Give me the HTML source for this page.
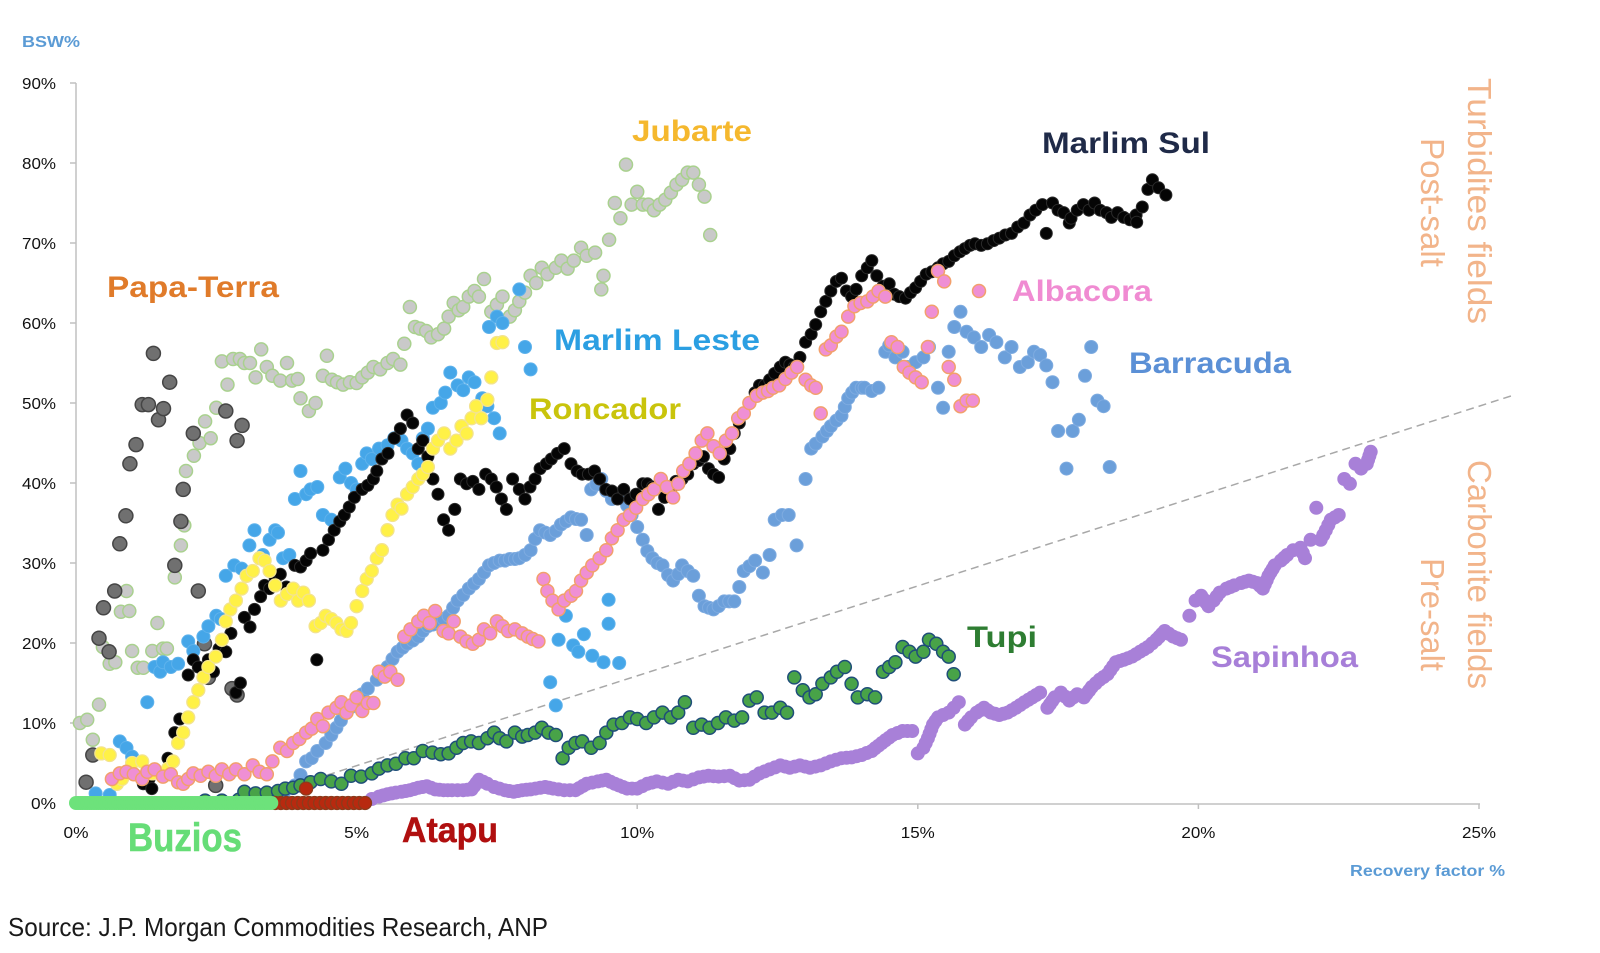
<!DOCTYPE html>
<html><head><meta charset="utf-8"><style>
html,body{margin:0;padding:0;background:#fff;}
svg{display:block;}
text{font-family:"Liberation Sans",Arial,sans-serif;}
</style></head><body>
<svg id="s" width="1600" height="953" viewBox="0 0 1600 953" xmlns="http://www.w3.org/2000/svg">
<rect width="1600" height="953" fill="#fff"/>
<g stroke="#c0c0c0" stroke-width="1.5" fill="none">
<line x1="76" y1="83" x2="76" y2="804"/>
<line x1="75" y1="804" x2="1480" y2="804"/>
<line x1="70" y1="83" x2="76" y2="83"/><line x1="70" y1="163" x2="76" y2="163"/><line x1="70" y1="243" x2="76" y2="243"/>
<line x1="70" y1="323" x2="76" y2="323"/><line x1="70" y1="403" x2="76" y2="403"/><line x1="70" y1="483" x2="76" y2="483"/>
<line x1="70" y1="563" x2="76" y2="563"/><line x1="70" y1="643" x2="76" y2="643"/><line x1="70" y1="723" x2="76" y2="723"/>
<line x1="70" y1="803" x2="76" y2="803"/>
<line x1="356.6" y1="804" x2="356.6" y2="809"/><line x1="637.2" y1="804" x2="637.2" y2="809"/>
<line x1="917.8" y1="804" x2="917.8" y2="809"/><line x1="1198.4" y1="804" x2="1198.4" y2="809"/><line x1="1479" y1="804" x2="1479" y2="809"/>
</g>
<g font-size="16" fill="#111" text-anchor="end">
<text x="56" y="89" textLength="34" lengthAdjust="spacingAndGlyphs">90%</text>
<text x="56" y="169" textLength="34" lengthAdjust="spacingAndGlyphs">80%</text>
<text x="56" y="249" textLength="34" lengthAdjust="spacingAndGlyphs">70%</text>
<text x="56" y="329" textLength="34" lengthAdjust="spacingAndGlyphs">60%</text>
<text x="56" y="409" textLength="34" lengthAdjust="spacingAndGlyphs">50%</text>
<text x="56" y="489" textLength="34" lengthAdjust="spacingAndGlyphs">40%</text>
<text x="56" y="569" textLength="34" lengthAdjust="spacingAndGlyphs">30%</text>
<text x="56" y="649" textLength="34" lengthAdjust="spacingAndGlyphs">20%</text>
<text x="56" y="729" textLength="34" lengthAdjust="spacingAndGlyphs">10%</text>
<text x="56" y="809" textLength="25" lengthAdjust="spacingAndGlyphs">0%</text>
</g>
<g font-size="16" fill="#111" text-anchor="middle">
<text x="76" y="838" textLength="25" lengthAdjust="spacingAndGlyphs">0%</text>
<text x="356.6" y="838" textLength="25" lengthAdjust="spacingAndGlyphs">5%</text>
<text x="637.2" y="838" textLength="34" lengthAdjust="spacingAndGlyphs">10%</text>
<text x="917.8" y="838" textLength="34" lengthAdjust="spacingAndGlyphs">15%</text>
<text x="1198.4" y="838" textLength="34" lengthAdjust="spacingAndGlyphs">20%</text>
<text x="1479" y="838" textLength="34" lengthAdjust="spacingAndGlyphs">25%</text>
</g>
<text x="22" y="47" font-size="16" font-weight="bold" fill="#5b9bd5" textLength="58" lengthAdjust="spacingAndGlyphs">BSW%</text>
<text x="1350" y="876" font-size="16" font-weight="bold" fill="#5b9bd5" textLength="155" lengthAdjust="spacingAndGlyphs">Recovery factor %</text>
<text x="8" y="936" font-size="26" fill="#1a1a1a" textLength="540" lengthAdjust="spacingAndGlyphs">Source: J.P. Morgan Commodities Research, ANP</text>
<line x1="290" y1="787" x2="1514" y2="395" stroke="#a8a8a8" stroke-width="1.5" stroke-dasharray="8,5"/>
<g id="dots"></g>
<g font-weight="bold" font-size="30">
<text x="107" y="297" fill="#e07b2a" textLength="172" lengthAdjust="spacingAndGlyphs">Papa-Terra</text>
<text x="632" y="141" fill="#f5b82e" textLength="120" lengthAdjust="spacingAndGlyphs">Jubarte</text>
<text x="1042" y="153" fill="#1f2a48" textLength="168" lengthAdjust="spacingAndGlyphs">Marlim Sul</text>
<text x="554" y="350" fill="#2b9fe2" textLength="206" lengthAdjust="spacingAndGlyphs">Marlim Leste</text>
<text x="529" y="419" fill="#c9c40c" textLength="152" lengthAdjust="spacingAndGlyphs">Roncador</text>
<text x="1012" y="301" fill="#f08bd2" textLength="140" lengthAdjust="spacingAndGlyphs">Albacora</text>
<text x="1129" y="373" fill="#5b90d6" textLength="162" lengthAdjust="spacingAndGlyphs">Barracuda</text>
<text x="967" y="647" fill="#2e7d32" textLength="70" lengthAdjust="spacingAndGlyphs">Tupi</text>
<text x="1211" y="667" fill="#a77fd8" textLength="147" lengthAdjust="spacingAndGlyphs">Sapinhoa</text>
<text x="128" y="851" font-size="40" fill="#66dd77" textLength="114" lengthAdjust="spacingAndGlyphs" stroke="#66dd77" stroke-width="0.6">Buzios</text>
<text x="402" y="842" font-size="35" fill="#b00f0f" textLength="96" lengthAdjust="spacingAndGlyphs" stroke="#b00f0f" stroke-width="0.5">Atapu</text>
</g>
<g font-size="33" fill="#f2b48a">
<text transform="translate(1468,78) rotate(90)" textLength="246" lengthAdjust="spacingAndGlyphs">Turbidites fields</text>
<text transform="translate(1421,138) rotate(90)" textLength="129" lengthAdjust="spacingAndGlyphs">Post-salt</text>
<text transform="translate(1468,460) rotate(90)" textLength="229" lengthAdjust="spacingAndGlyphs">Carbonite fields</text>
<text transform="translate(1421,558) rotate(90)" textLength="113" lengthAdjust="spacingAndGlyphs">Pre-salt</text>
</g>
</svg>
<script>
(function(){
var X=function(v){return 76+v*56.12;}, Y=function(v){return 803-v*8.0;};
var out=[];
function series(a,o){
  var pts=[];
  for(var i=0;i<a.length;i+=2){pts.push([X(a[i]),Y(a[i+1])]);}
  var res=[];
  for(var j=0;j<pts.length;j++){
    res.push(pts[j]);
    if(o.step && j<pts.length-1){
      var dx=pts[j+1][0]-pts[j][0], dy=pts[j+1][1]-pts[j][1], d=Math.sqrt(dx*dx+dy*dy);
      if(d>o.step && d<(o.gap||20)){
        var n=Math.floor(d/o.step);
        for(var k=1;k<n;k++){res.push([pts[j][0]+dx*k/n, pts[j][1]+dy*k/n]);}
      }
    }
  }
  for(var m=0;m<res.length;m++){
    out.push('<circle cx="'+res[m][0].toFixed(1)+'" cy="'+res[m][1].toFixed(1)+'" r="'+o.r+'" fill="'+o.f+'"'+(o.s?' stroke="'+o.s+'" stroke-width="'+(o.sw||1.3)+'"':'')+'/>');
  }
}
var jub=[0.07,10,0.2,10.4,0.3,7.9,0.41,12.3,0.48,19.5,0.6,17.4,0.7,17.6,0.8,23.9,0.9,26.5,0.95,24,1.0,19,1.1,16.9,1.2,16.9,1.36,19,1.45,22.5,1.55,19.3,1.62,19.3,1.76,28.2,1.87,32.2,1.93,34.7,1.96,41.5,2.1,43.4,2.2,45,2.3,47.7,2.4,45.6,2.5,49.4,2.6,55.2,2.7,52.3,2.8,55.5,2.92,55.5,3.0,55,3.1,55,3.2,53.2,3.3,56.7,3.4,54.5,3.5,53.4,3.64,52.8,3.76,55,3.85,52.8,3.95,53,4.0,50.6,4.15,49,4.27,50,4.4,53.4,4.47,55.9,4.56,52.9,4.65,52.6,4.76,52.3,4.88,52.6,5.0,52.5,5.1,53.2,5.2,53.8,5.3,54.5,5.42,54.2,5.55,55,5.65,55.5,5.78,54.8,5.85,57.4,5.95,62,6.04,59.5,6.13,59.3,6.24,59,6.33,58.2,6.45,58.6,6.56,59.3,6.64,60.8,6.73,62.5,6.82,61.6,6.9,62,7.0,63.3,7.1,64,7.18,63.3,7.27,65.5,7.4,61.4,7.5,62.3,7.6,63.3,7.73,60.8,7.82,61.6,7.9,62.7,8.0,63.8,8.1,65.9,8.2,65,8.3,66.9,8.4,66.1,8.55,66.9,8.65,67.8,8.76,66.8,8.87,67.8,9.0,69.4,9.1,68.4,9.25,68.8,9.36,64.2,9.4,65.9,9.5,70.4,9.6,75,9.7,73.1,9.8,79.8,9.9,74.8,10.0,76.4,10.1,74.8,10.2,74.8,10.3,74.1,10.4,74.8,10.5,75.4,10.6,76.3,10.7,77.3,10.8,77.9,10.9,78.8,11.0,78.8,11.1,77.3,11.2,75.8,11.3,71];
var pap=[0.18,2.6,0.3,6,0.41,20.6,0.49,24.4,0.59,18.9,0.69,26.5,0.78,32.4,0.89,35.9,0.96,42.4,1.07,44.8,1.18,49.8,1.29,49.8,1.38,56.2,1.47,47.9,1.56,49.3,1.67,52.6,1.76,29.7,1.87,35.2,1.91,39.2,2.09,46.2,2.18,26.5,2.29,19.9,2.36,15.7,2.49,2.2,2.67,49,2.87,45.3,2.96,47.2,2.78,14.3,2.87,13.5];
var mle=[0.35,1.2,0.6,1,0.78,7.7,0.9,6.9,1.0,5.8,1.27,12.6,1.4,17,1.5,16.4,1.55,17.6,1.69,17,1.82,17.4,2.0,20.2,2.09,19,2.27,20.8,2.36,22.1,2.5,23.4,2.58,23,2.67,28.4,2.82,29.7,2.95,29.3,3.09,32.2,3.18,34.1,3.33,31,3.45,32.9,3.55,34.1,3.6,33.8,3.69,30.6,3.8,31,3.9,38,4.0,41.5,4.1,38.6,4.18,39.2,4.3,39.5,4.4,36,4.55,35.4,4.7,40.7,4.8,41.8,4.9,40,5.0,39.2,5.1,42.4,5.18,43.7,5.27,43,5.4,44.3,5.55,44.7,5.67,45.6,5.8,45.3,5.9,44.3,6.0,43.7,6.1,42.4,6.18,45.6,6.27,46.8,6.36,49.4,6.5,50,6.58,51.3,6.67,53.8,6.8,52.2,6.9,51.6,7.0,53.2,7.1,52.6,7.24,50.6,7.33,49.6,7.45,48.1,7.55,46.2,7.36,59.5,7.5,60.8,7.6,60,7.9,64.2,8.0,57,8.1,54.2,8.45,15.1,8.55,12.2,8.6,20.4,8.73,23.4,8.86,19.7,8.95,18.9,9.05,21.1,9.2,18.4,9.4,17.6,9.49,25.4,9.49,22.4,9.68,17.5];
var bar=[3.55,0.5,3.7,1.2,3.9,2.2,4.0,3.5,4.1,5.2,4.2,5.6,4.3,6.5,4.45,7.5,4.55,8.5,4.64,9.4,4.72,10.3,4.8,11.3,4.9,12,5.0,12.8,5.1,13.6,5.2,14.3,5.36,15.4,5.45,16.2,5.55,17,5.64,18,5.73,18.9,5.82,19.4,5.9,19.9,6.0,20.3,6.1,20.8,6.18,21.5,6.27,22.1,6.36,22.3,6.45,22.6,6.55,23,6.64,23.4,6.72,24.4,6.8,25.3,6.9,26,7.0,26.8,7.09,27.4,7.18,28,7.27,28.8,7.36,29.7,7.45,30,7.55,30.3,7.64,30.3,7.73,30.5,7.82,30.5,7.9,30.6,8.0,31,8.1,31.6,8.18,33,8.27,34.1,8.36,33.8,8.45,33.5,8.55,34,8.64,34.8,8.73,35.2,8.82,35.7,8.91,35.5,9.0,35.4,9.1,33.5,9.18,39.2,9.27,39.8,9.36,40.5,9.45,39,9.55,38,9.64,38.3,9.73,38.6,9.82,37.2,9.9,36,10.0,34.5,10.1,32.9,10.18,31.5,10.27,30.6,10.36,30,10.45,29.7,10.55,28.5,10.64,27.8,10.73,28.6,10.8,29.7,10.9,29,11.0,28.4,11.1,25.9,11.2,24.6,11.28,24.4,11.36,24.2,11.45,24.6,11.55,25.2,11.64,25.2,11.73,25.2,11.82,27,11.9,29,12.0,29.6,12.1,30.3,12.24,28.8,12.36,31,12.45,35.4,12.58,36,12.7,36,12.84,32.2,13.0,40.5,13.1,44.3,13.18,44.9,13.3,45.8,13.38,46.5,13.45,47.1,13.55,47.8,13.64,48.4,13.7,49.5,13.76,50.6,13.83,51.3,13.9,51.9,14.0,51.9,14.05,51.9,14.18,51.5,14.3,51.9,14.42,56.4,14.49,57.2,14.6,55.7,14.73,56.4,14.82,54.5,14.96,55.1,15.1,55.7,15.2,57,15.36,51.9,15.45,49.4,15.55,56.4,15.65,59.5,15.76,61.4,15.87,58.9,16.0,58.2,16.13,57,16.27,58.5,16.4,57.6,16.55,55.7,16.67,57,16.82,54.5,16.96,55.1,17.07,56.4,17.18,56,17.29,54.7,17.4,52.6,17.5,46.5,17.65,41.8,17.76,46.5,17.87,47.9,17.98,53.4,18.09,57,18.2,50.3,18.31,49.6,18.42,42];
var msul=[1.2,2.4,1.3,3,1.35,1.8,1.64,5.6,1.76,8.8,1.85,10.5,2.0,16,2.09,17.9,2.18,17,2.36,17.9,2.45,16.4,2.55,19.3,2.67,18.9,2.76,21.2,2.85,13.8,2.93,15,3.0,23.2,3.1,22,3.18,24.2,3.29,25.8,3.36,27.2,3.45,26.8,3.55,28,3.64,28.6,3.75,27,3.9,29.7,4.0,29.5,4.1,30.3,4.18,31.2,4.29,17.9,4.4,31.6,4.5,32.9,4.6,34.1,4.7,35.2,4.78,36,4.87,37,4.96,38.2,5.1,39.2,5.2,39.7,5.3,40.5,5.36,41.5,5.45,43,5.56,43.7,5.67,45.6,5.78,46.8,5.9,48.5,6.0,47.5,6.1,44.3,6.18,45.3,6.27,43.3,6.36,40.5,6.45,38.6,6.55,35.4,6.64,34.1,6.75,36.7,6.85,40.5,6.96,39.9,7.07,40.2,7.18,39.2,7.3,41.1,7.4,40.5,7.49,39.5,7.58,38,7.67,36.7,7.78,40.5,7.9,39.2,8.0,38,8.09,39.5,8.18,40.5,8.27,41.8,8.38,42.4,8.47,43,8.58,43.7,8.7,44.3,8.82,42.4,8.93,41.5,9.02,41.1,9.13,41.1,9.24,41.5,9.33,40.5,9.44,39.2,9.55,39,9.65,38,9.76,39.2,9.87,38,9.98,38.6,10.1,39.9,10.18,39.9,10.27,39.5,10.38,36.7,10.49,38.2,10.6,39.2,10.69,40.2,10.8,40.5,10.9,41.1,11.0,42.4,11.09,42.8,11.18,43.3,11.27,41.8,11.36,41.1,11.45,40.7,11.55,43,11.65,44.3,11.73,46.2,11.82,47.5,11.9,48.7,12.0,50,12.1,51.3,12.18,52.2,12.27,52.2,12.36,52.9,12.45,53.7,12.55,54.5,12.64,55.1,12.72,54.8,12.8,54.5,12.9,55.7,13.0,57.6,13.1,58.6,13.18,59.8,13.27,61.4,13.36,62.7,13.45,64,13.55,65.2,13.64,65.6,13.73,64,13.82,63.3,13.9,64.2,14.0,65.9,14.1,66.9,14.18,67.8,14.27,65.9,14.38,64.6,14.49,64.9,14.58,63.6,14.67,63.3,14.78,63.1,14.87,63.8,14.96,64.4,15.05,65.2,15.15,66.1,15.25,66.4,15.36,66.9,15.45,67.4,15.55,67.7,15.65,68.4,15.75,68.9,15.84,69.3,15.93,69.7,16.02,69.9,16.13,69.7,16.24,69.9,16.35,70.3,16.45,70.6,16.56,71,16.67,71.2,16.78,72,16.89,72.5,17.0,73.5,17.1,74.1,17.22,74.8,17.29,71.2,17.4,75,17.5,74.1,17.6,73.8,17.7,72.5,17.73,73.1,17.84,74.1,17.95,74.8,18.05,74.1,18.15,75,18.25,74.1,18.36,73.8,18.45,73.2,18.56,73.8,18.67,73.2,18.78,72.9,18.89,73.5,18.9,72.6,19.0,74.5,19.1,76.7,19.18,77.9,19.29,76.9,19.42,76];
var ron=[0.45,6.2,0.6,6,0.73,2.4,0.82,3,1.0,5,1.18,5.2,1.36,3.7,1.64,4.3,1.73,5.2,1.82,7.5,1.91,8.8,2.0,10.7,2.09,12.6,2.18,14.1,2.27,15.7,2.36,17,2.49,18.3,2.6,20.4,2.67,22.7,2.75,24.2,2.85,25.3,2.95,26.8,3.04,28.4,3.15,29,3.27,30.6,3.36,30.3,3.45,29,3.55,27.2,3.65,25.3,3.76,26.1,3.87,26.8,3.96,25.3,4.05,26.3,4.15,25.3,4.27,22.1,4.36,22.5,4.45,23.4,4.55,23,4.64,22.5,4.73,21.7,4.82,21.5,4.9,22.5,5.0,24.6,5.1,26.5,5.18,28,5.27,29,5.36,30.6,5.45,31.6,5.55,34.1,5.64,36,5.73,37.3,5.8,36.8,5.9,38.6,6.0,39.5,6.1,40.5,6.18,41.1,6.27,42,6.36,44.3,6.45,45.3,6.56,46.2,6.67,44.3,6.78,45.3,6.87,47.1,6.96,46.2,7.05,48.1,7.13,49.6,7.22,48.1,7.33,50.4,7.4,53.2,7.5,57.5,7.6,57.6];
var alb=[0.64,3,0.78,3.7,0.9,3.9,1.03,3.6,1.18,3,1.27,3.9,1.4,4.2,1.55,3.3,1.69,3.6,1.82,2.6,1.91,2.4,2.0,3,2.09,3.7,2.22,3.4,2.36,3.9,2.49,3.4,2.6,4.2,2.73,3.6,2.85,4.2,3.0,3.6,3.15,4.7,3.27,3.9,3.4,3.6,3.5,5.2,3.64,6.9,3.76,6.5,3.87,7.5,3.98,8,4.1,8.8,4.2,9.3,4.3,10.5,4.4,9.6,4.5,11.3,4.64,11.9,4.73,12.6,4.82,11.3,4.9,12.2,5.0,13.2,5.1,11.5,5.2,12.5,5.3,12.5,5.4,16.4,5.5,15.8,5.6,16.4,5.73,15.4,5.85,20.8,5.96,21.7,6.1,22.7,6.2,23.4,6.3,22.5,6.4,24,6.55,21.5,6.64,21.2,6.73,22.7,6.85,20.8,6.96,20.2,7.07,19.9,7.18,20.4,7.27,21.7,7.38,21.2,7.5,22.7,7.6,22.1,7.7,21.5,7.82,21.7,7.95,21.2,8.05,20.8,8.14,20.5,8.24,20.2,8.33,28,8.4,26.5,8.49,25.3,8.6,24.2,8.7,25.3,8.82,25.9,8.91,26.5,9.0,27.8,9.1,28.8,9.2,29.7,9.33,30.6,9.45,31.6,9.55,33.1,9.65,34.1,9.76,35.4,9.87,36,9.98,36.9,10.1,38,10.2,38.6,10.3,39.2,10.42,40.5,10.53,39.5,10.64,38.2,10.73,39.9,10.82,41.5,10.93,42.4,11.04,43.7,11.15,45.3,11.25,46.2,11.36,44.6,11.47,43.7,11.58,45.3,11.69,46.2,11.8,48.1,11.9,48.7,12.0,50,12.13,50.9,12.24,51.3,12.33,51.5,12.42,51.9,12.53,52.2,12.64,53,12.75,53.8,12.85,54.5,13.0,52.9,13.1,52.2,13.18,51.9,13.27,48.7,13.36,56.7,13.45,57.2,13.55,58.3,13.64,58.9,13.76,60.8,13.87,62.1,13.98,62.5,14.1,62.7,14.2,63.3,14.3,64,14.42,63.3,14.53,57.6,14.64,57,14.75,54.5,14.85,53.8,14.96,53.2,15.07,52.6,15.18,57,15.25,61.4,15.36,66.5,15.47,65.2,15.55,54.5,15.65,52.9,15.76,49.6,15.87,50.3,15.98,50.3,16.09,64];
var tupi=[2.3,0.3,2.6,0.3,2.9,0.4,3.0,1.4,3.2,1.2,3.4,1.3,3.6,1.5,3.73,1.8,3.87,1.9,4.0,2.2,4.18,2.6,4.36,3,4.55,2.7,4.73,2.4,4.9,3.4,5.08,3.3,5.27,3.7,5.4,4.3,5.55,4.7,5.7,4.9,5.87,5.6,6.02,5.6,6.18,6.5,6.35,6.3,6.5,6.1,6.64,6.2,6.78,6.9,6.9,7.5,7.04,7.7,7.18,7.5,7.33,8.1,7.45,8.8,7.55,8.1,7.67,7.7,7.82,8.8,7.95,8.3,8.05,8.5,8.18,8.8,8.3,9.4,8.42,8.8,8.55,8.5,8.67,5.6,8.78,6.9,8.9,7.5,9.02,7.7,9.18,6.9,9.33,7.5,9.45,8.8,9.58,9.8,9.73,10,9.87,10.7,10.0,10.5,10.16,10,10.3,10.7,10.45,11.3,10.6,10.7,10.73,11.3,10.85,12.6,11.0,9.4,11.15,9.8,11.29,9.4,11.44,10,11.58,10.7,11.73,10.3,11.87,10.7,12.0,12.8,12.13,13.2,12.27,11.3,12.4,11.3,12.55,11.9,12.67,11.3,12.8,15.7,12.95,14.1,13.07,13.2,13.18,13.6,13.3,14.9,13.45,15.7,13.56,16.4,13.7,17,13.82,14.9,13.93,13.2,14.1,13.6,14.24,13.2,14.38,16.4,14.49,17,14.6,17.6,14.73,19.5,14.85,18.9,14.96,18.3,15.1,18.9,15.2,20.4,15.33,19.9,15.45,18.9,15.55,18.3,15.64,16.1];
var sap=[5.27,0.5,5.4,0.8,5.55,1.1,5.7,1.3,5.8,1.4,5.95,1.6,6.1,1.9,6.25,2.1,6.4,1.7,6.55,1.6,6.7,1.6,6.9,1.6,7.05,1.7,7.18,2.9,7.33,2.4,7.45,2.0,7.64,1.6,7.8,1.4,7.95,1.6,8.1,1.7,8.36,2.0,8.5,1.8,8.7,1.6,8.9,1.6,9.1,2.4,9.3,2.7,9.45,2.9,9.6,2.4,9.82,1.8,10.0,1.8,10.18,2.4,10.35,2.7,10.55,2.4,10.73,2.9,10.9,2.7,11.1,3.2,11.27,3.4,11.45,3.3,11.65,3.4,11.82,2.8,12.0,2.9,12.18,3.7,12.36,4.2,12.55,4.7,12.72,4.4,12.9,4.7,13.08,4.4,13.27,4.7,13.45,5.2,13.64,5.6,13.82,5.7,14.0,6.0,14.18,6.5,14.36,7.5,14.55,8.5,14.73,9.0,14.9,9.0,15.0,6.2,15.1,6.9,15.18,8.1,15.27,9.8,15.36,10.7,15.45,11.0,15.55,11.3,15.64,11.9,15.73,12.6,15.84,9.8,15.95,10.7,16.05,11.3,16.18,11.9,16.3,11.3,16.45,11.0,16.6,11.3,16.75,11.9,16.9,12.6,17.04,13.2,17.18,13.8,17.31,11.9,17.44,13.2,17.55,13.8,17.7,12.8,17.84,13.6,17.96,13.2,18.1,14.5,18.24,15.4,18.38,16.1,18.53,17.6,18.67,17.9,18.82,18.3,18.96,18.9,19.1,19.5,19.25,20.4,19.4,21.5,19.55,20.8,19.69,20.4,19.84,23.4,19.95,25.3,20.05,25.9,20.18,24.6,20.27,25.3,20.38,26.3,20.5,26.8,20.64,27.2,20.76,27.5,20.9,27.8,21.04,27.5,21.15,26.8,21.25,28.4,21.36,29.7,21.47,30.3,21.58,31.0,21.69,31.6,21.82,31.9,21.9,30.6,22.0,32.9,22.1,36.9,22.18,32.9,22.27,34.1,22.36,35.4,22.5,36.0,22.6,40.5,22.7,39.9,22.8,42.4,22.9,41.8,23.0,42.4,23.07,43.9];
var ata=[];for(var a=3.55;a<=5.22;a+=0.1){ata.push(a,0);} ata.push(4.1,1.8);
var buz=[];for(var b=0;b<=3.5;b+=0.04){buz.push(b,0);}
series(jub,{r:6.5,f:'#c9c9c9',s:'#a9d18e',sw:1.5});
series(pap,{r:7,f:'#707070',s:'#454545',sw:1.5});
series(mle,{r:6.5,f:'#45a6e8',s:'#5eb2ec',sw:1});
series(bar,{r:6.5,f:'#6b9fda',s:'#7eabe0',sw:1});
series(msul,{r:6,f:'#050505',s:'#2a2a2a',sw:1});
series(ron,{r:6.5,f:'#fff146',s:'#f3e38e',sw:1.3});
series(alb,{r:6.5,f:'#ef8fd4',s:'#f2a06c',sw:1.5});
series(sap,{r:7,f:'#a880d8',step:4,gap:16});
series(tupi,{r:6.5,f:'#48a348',s:'#1f4e79',sw:1.5});
series(ata,{r:6.5,f:'#b8290f',s:'#8b3b1b',sw:1.3});
series(buz,{r:7,f:'#6de27b'});
document.getElementById('dots').innerHTML=out.join('');
})();
</script>
</body></html>
